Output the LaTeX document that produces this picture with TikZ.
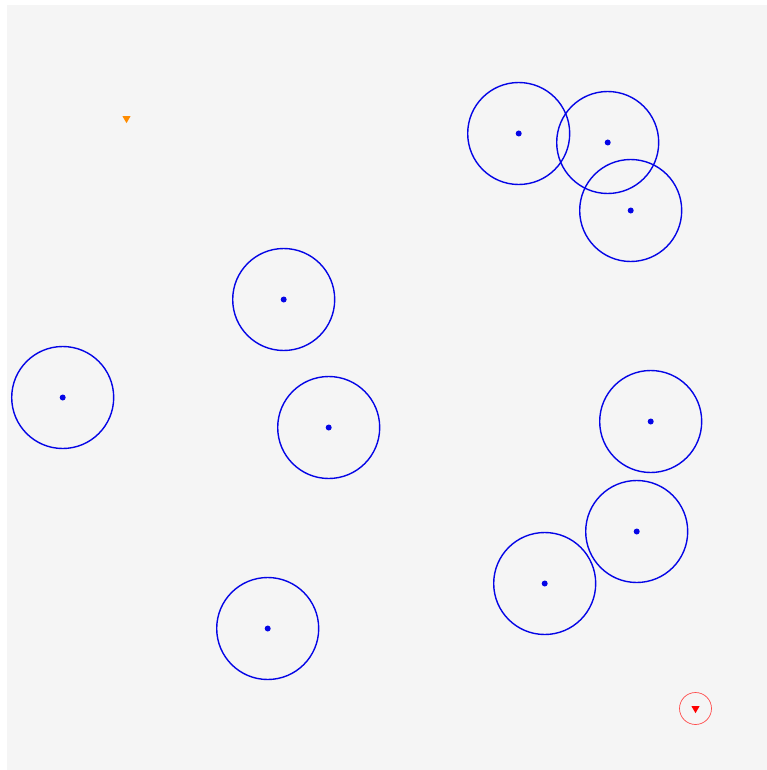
\documentclass[tikz,border=0pt]{standalone}
\usetikzlibrary{shapes.geometric}
\definecolor{bg}{HTML}{F5F5F5}
\definecolor{cblue}{RGB}{5,5,230}
\definecolor{corange}{HTML}{FF8C00}
\begin{document}
\begin{tikzpicture}[x=1pt,y=-1pt,
  ring/.style={circle,draw=cblue,line width=1.4pt,minimum size=102pt,inner sep=0pt},
  centre/.style={circle,fill=cblue,minimum size=6pt,inner sep=0pt},
  tri/.style={isosceles triangle,isosceles triangle apex angle=60,shape border rotate=-90,inner sep=0pt,minimum height=7pt,minimum width=8pt}]
\useasboundingbox (0,0) rectangle (767,770);
\fill[bg] (7,5) rectangle (767,770);
\foreach \n/\x/\y in {a/518.7/133.5,b/607.7/142.5,c/630.7/210.5,d/283.7/299.5,e/62.7/397.5,f/328.7/427.5,g/650.7/421.5,h/636.7/531.5,i/544.7/583.5,j/267.7/628.5}{
  \node[ring] (r\n) at (\x,\y) {};
  \node[centre] (c\n) at (\x,\y) {};
}
\node[tri,fill=corange] (start) at (126.5,118.5) {};
\node[circle,draw=red!70,line width=0.7pt,minimum size=32pt,inner sep=0pt] (goalring) at (695.5,708.5) {};
\node[tri,fill=red] (goal) at (695.5,708.5) {};
\end{tikzpicture}
\end{document}
